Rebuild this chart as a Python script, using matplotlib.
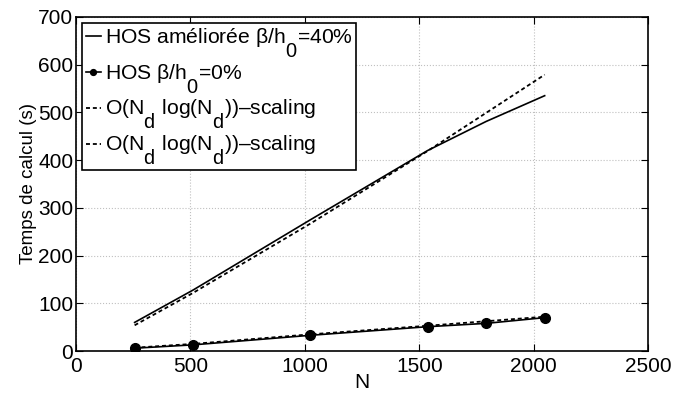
import matplotlib
matplotlib.use("Agg")
import matplotlib.pyplot as plt
import matplotlib._mathtext as mt

# MATLAB-style subscripts: nearly full size, dropped below the baseline
mt.SHRINK_FACTOR = 0.95
mt.FontConstantsBase.subdrop = 1.3
mt.FontConstantsBase.sub1 = 1.3

plt.rcParams["font.family"] = ["Liberation Sans", "DejaVu Sans"]
plt.rcParams["mathtext.fontset"] = "custom"
plt.rcParams["mathtext.rm"] = "Liberation Sans"

# grid sizes N
n_improved = [256, 512, 1024, 1536, 1792, 2048]
t_improved = [60, 128, 275, 420, 481, 535]
n_fit_improved = [256, 512, 1024, 1536, 2048]
t_fit_improved = [54, 122, 267, 419, 579]

n_plain = [256, 512, 1024, 1536, 1792, 2048]
t_plain = [6, 13, 33, 51, 58, 70]
n_fit_plain = [256, 512, 1024, 1536, 2048]
t_fit_plain = [7, 15, 35, 53, 72]

labels = [
    r"HOS améliorée β/$\mathrm{h_0}$=40%",
    r"HOS β/$\mathrm{h_0}$=0%",
    "O($\\mathrm{N_d}$ log($\\mathrm{N_d}$))\u2013scaling",
    "O($\\mathrm{N_d}$ log($\\mathrm{N_d}$))\u2013scaling",
]

dash = (0, (2.2, 1.6))

fig = plt.figure(figsize=(6.73, 3.94), dpi=100)
ax = fig.add_axes([0.113, 0.109, 0.85, 0.848])

ax.plot(n_improved, t_improved, "k-", lw=1.2, label=labels[0])
ax.plot(n_plain, t_plain, "k-", lw=1.2, marker="o", ms=7, label=labels[1])
ax.plot(n_fit_improved, t_fit_improved, color="k", ls=dash, lw=1.3, label=labels[2])
ax.plot(n_fit_plain, t_fit_plain, color="k", ls=dash, lw=1.3, label=labels[3])

ax.set_xlim(0, 2500)
ax.set_ylim(0, 700)
ax.set_xticks(range(0, 2501, 500))
ax.set_yticks(range(0, 701, 100))
ax.grid(True, color="#c0c0c0", ls=":", lw=0.8)
ax.tick_params(direction="in", top=True, right=True, labelsize=15, length=5)
ax.tick_params(axis="x", pad=4)
ax.tick_params(axis="y", pad=2)
for s in ax.spines.values():
    s.set_linewidth(1.2)
ax.set_xlabel("N", fontsize=15, labelpad=-2)
ax.set_ylabel("Temps de calcul (s)", fontsize=13.5, labelpad=1)

leg = ax.legend(loc="upper left", fontsize=15.2, handlelength=0.75, handletextpad=0.15,
                borderaxespad=0.3, fancybox=False, framealpha=1, edgecolor="black",
                labelspacing=0.12, borderpad=0.15, markerscale=0.6)
leg.get_frame().set_linewidth(1.2)

fig.savefig("out.png", dpi=100)
